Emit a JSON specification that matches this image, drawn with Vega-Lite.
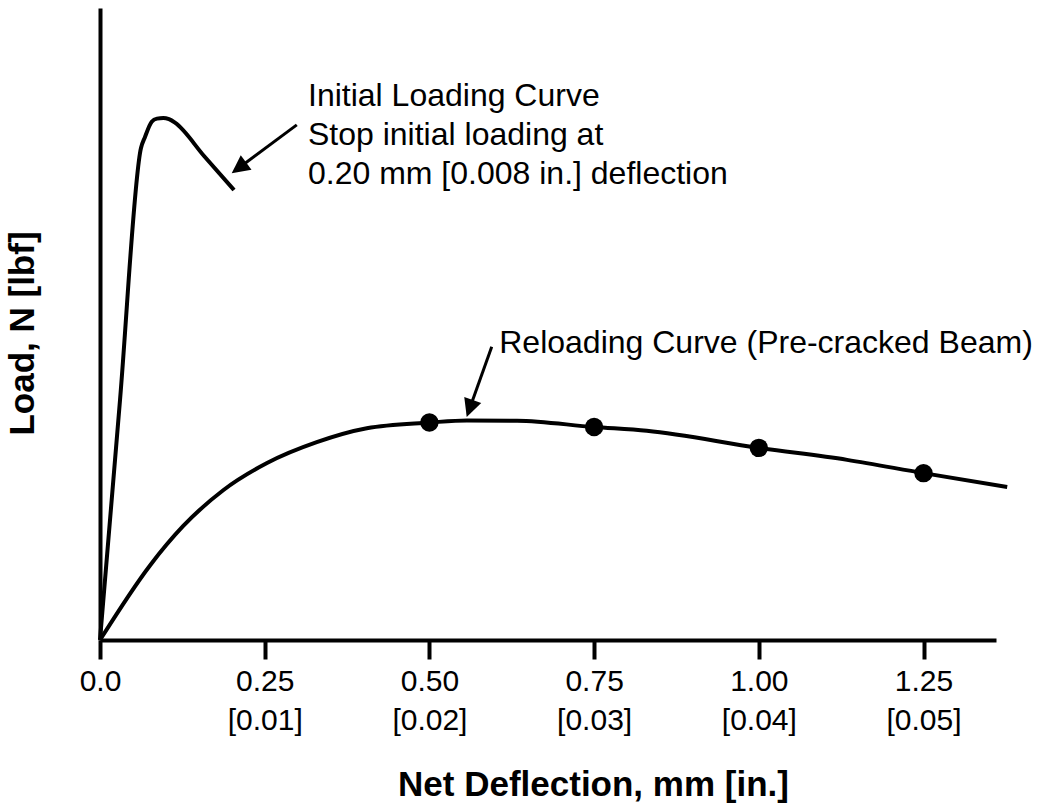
{
  "$schema": "https://vega.github.io/schema/vega-lite/v6.json",
  "width": 896,
  "height": 632,
  "autosize": {"type": "none"},
  "padding": {"left": 100, "top": 8, "right": 43, "bottom": 166},
  "background": "white",
  "config": {"view": {"stroke": null}, "font": "Liberation Sans"},
  "datasets": {
    "curves": [
      {"curve": "initial", "d": 0, "load": 0},
      {"curve": "initial", "d": 0.0304, "load": 38.0},
      {"curve": "initial", "d": 0.0622, "load": 77.85},
      {"curve": "initial", "d": 0.0683, "load": 79.6},
      {"curve": "initial", "d": 0.0785, "load": 82.0},
      {"curve": "initial", "d": 0.0865, "load": 82.5},
      {"curve": "initial", "d": 0.0961, "load": 82.6},
      {"curve": "initial", "d": 0.1047, "load": 82.4},
      {"curve": "initial", "d": 0.1138, "load": 81.85},
      {"curve": "initial", "d": 0.1586, "load": 76.5},
      {"curve": "initial", "d": 0.2034, "load": 71.2},
      {"curve": "reloading", "d": 0, "load": 0},
      {"curve": "reloading", "d": 0.0759, "load": 11.8},
      {"curve": "reloading", "d": 0.126, "load": 18.0},
      {"curve": "reloading", "d": 0.187, "load": 23.7},
      {"curve": "reloading", "d": 0.2535, "load": 28.0},
      {"curve": "reloading", "d": 0.329, "load": 31.3},
      {"curve": "reloading", "d": 0.405, "load": 33.5},
      {"curve": "reloading", "d": 0.5, "load": 34.4},
      {"curve": "reloading", "d": 0.557, "load": 34.75},
      {"curve": "reloading", "d": 0.633, "load": 34.7},
      {"curve": "reloading", "d": 0.75, "load": 33.7},
      {"curve": "reloading", "d": 0.83, "load": 33.1},
      {"curve": "reloading", "d": 1.0, "load": 30.4},
      {"curve": "reloading", "d": 1.134, "load": 28.5},
      {"curve": "reloading", "d": 1.25, "load": 26.4},
      {"curve": "reloading", "d": 1.377, "load": 24.2}
    ],
    "dots": [
      {"d": 0.5, "load": 34.4},
      {"d": 0.75, "load": 33.7},
      {"d": 1.0, "load": 30.4},
      {"d": 1.25, "load": 26.4}
    ],
    "shafts": [
      {"id": 1, "d": 0.2987, "load": 81.5, "d2": 0.2096, "load2": 74.6},
      {"id": 2, "d": 0.5946, "load": 46.4, "d2": 0.5607, "load2": 36.5}
    ],
    "tips": [
      {"id": 1, "d": 0.1999, "load": 73.85},
      {"id": 2, "d": 0.5566, "load": 35.3}
    ],
    "notes": [
      {"text": "Initial Loading Curve", "d": 0.3157, "load": 84.5},
      {"text": "Stop initial loading at", "d": 0.3157, "load": 78.3},
      {"text": "0.20 mm [0.008 in.] deflection", "d": 0.3157, "load": 72.2},
      {"text": "Reloading Curve (Pre-cracked Beam)", "d": 0.606, "load": 45.4}
    ]
  },
  "encoding": {
    "x": {
      "field": "d",
      "type": "quantitative",
      "scale": {"domain": [0, 1.36], "nice": false, "zero": false},
      "axis": {
        "values": [0, 0.25, 0.5, 0.75, 1, 1.25],
        "labelExpr": "datum.value == 0 ? '0.0' : [format(datum.value, '.2f'), '[' + format(datum.value * 0.04, '.2f') + ']']",
        "labelFontSize": 30,
        "labelColor": "black",
        "labelFont": "Liberation Sans",
        "labelFlush": false,
        "labelPadding": 7,
        "labelLineHeight": 39,
        "labelBaseline": "top",
        "labelOverlap": false,
        "tickSize": 19,
        "tickWidth": 4,
        "tickColor": "black",
        "domainWidth": 4,
        "domainColor": "black",
        "grid": false,
        "title": "Net Deflection, mm [in.]",
        "titleFontSize": 35,
        "titleFontWeight": "bold",
        "titleColor": "black",
        "titleFont": "Liberation Sans",
        "titleX": 493,
        "titleY": 155,
        "titleBaseline": "alphabetic",
        "titleAlign": "center"
      }
    },
    "y": {
      "field": "load",
      "type": "quantitative",
      "scale": {"domain": [0, 100], "nice": false},
      "axis": {
        "ticks": false,
        "labels": false,
        "grid": false,
        "domainWidth": 4,
        "domainColor": "black",
        "title": "Load, N [lbf]",
        "titleFontSize": 35,
        "titleFontWeight": "bold",
        "titleColor": "black",
        "titleFont": "Liberation Sans",
        "titleAngle": -90,
        "titleX": -67,
        "titleY": 325,
        "titleBaseline": "alphabetic",
        "titleAlign": "center"
      }
    }
  },
  "layer": [
    {
      "data": {"name": "curves"},
      "mark": {"type": "line", "color": "black", "strokeWidth": 4, "interpolate": "monotone", "strokeJoin": "round"},
      "encoding": {"detail": {"field": "curve", "type": "nominal"}}
    },
    {
      "data": {"name": "dots"},
      "mark": {"type": "point", "shape": "circle", "filled": true, "color": "black", "opacity": 1, "size": 340}
    },
    {
      "data": {"name": "shafts"},
      "mark": {"type": "rule", "color": "black", "strokeWidth": 3},
      "encoding": {
        "x2": {"field": "d2"},
        "y2": {"field": "load2"}
      }
    },
    {
      "data": {"name": "tips"},
      "transform": [{"filter": "datum.id == 1"}],
      "mark": {"type": "point", "shape": "M0,0 L-1.8,-0.9 L-1.8,0.9 Z", "filled": true, "color": "black", "opacity": 1, "size": 400, "angle": 143.4, "strokeWidth": 0}
    },
    {
      "data": {"name": "tips"},
      "transform": [{"filter": "datum.id == 2"}],
      "mark": {"type": "point", "shape": "M0,0 L-1.8,-0.9 L-1.8,0.9 Z", "filled": true, "color": "black", "opacity": 1, "size": 400, "angle": 109.65, "strokeWidth": 0}
    },
    {
      "data": {"name": "notes"},
      "mark": {"type": "text", "align": "left", "baseline": "alphabetic", "fontSize": 32, "color": "black", "font": "Liberation Sans"},
      "encoding": {"text": {"field": "text", "type": "nominal"}}
    }
  ]
}
